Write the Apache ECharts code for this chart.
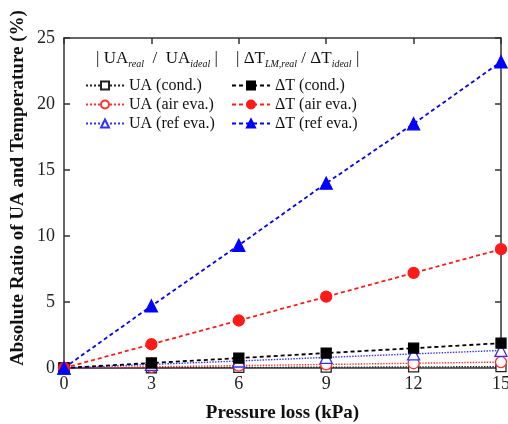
<!DOCTYPE html>
<html><head><meta charset="utf-8">
<script src="https://cdn.jsdelivr.net/npm/echarts@6/dist/echarts.min.js"></script>
<style>html,body{margin:0;padding:0;background:#fff}#c{width:508px;height:424px}</style>
</head><body><div id="c"></div>
<script>
const pressure = [0, 3, 6, 9, 12, 15];
const uaCond   = [0, 0.02, 0.04, 0.06, 0.08, 0.10];
const uaAir    = [0, 0.09, 0.18, 0.27, 0.36, 0.45];
const uaRef    = [0, 0.27, 0.53, 0.80, 1.07, 1.33];
const dtCond   = [0, 0.38, 0.75, 1.13, 1.50, 1.88];
const dtAir    = [0, 1.8, 3.6, 5.4, 7.2, 9.0];
const dtRef    = [0, 4.7, 9.3, 14.0, 18.5, 23.2];
const xTicks = [0, 3, 6, 9, 12, 15];
const yTicks = [0, 5, 10, 15, 20, 25];

const F = 'Liberation Serif';
const chart = echarts.init(document.getElementById('c'), null, {renderer:'canvas'});
const pairs = a => pressure.map((x,i)=>[x,a[i]]);
function s(name, data, color, dash, symbol, filled){
  return {name, type:'line', data:pairs(data), symbol, symbolSize: symbol==='triangle'?12:(symbol==='circle'?11:10),
    showSymbol:true,
    lineStyle:{color, width: filled?1.8:1.4, type: dash},
    itemStyle:{color: filled?color:'#fff', borderColor:color, borderWidth:1.3},
    z: filled?3:2, animation:false};
}
const axisCommon = {min:0, axisLine:{onZero:false, lineStyle:{color:'#333', width:1.5}},
  axisTick:{inside:true, length:6, lineStyle:{color:'#333', width:1.5}}, splitLine:{show:false}};
chart.setOption({
  backgroundColor:'#fff',
  animation:false,
  grid:{left:64, right:7, top:38, bottom:56, outerBoundsMode:'none', containLabel:false},
  xAxis:[
    Object.assign({}, axisCommon, {type:'value', max:15, interval:3, position:'bottom',
      name:'Pressure loss (kPa)', nameLocation:'middle', nameGap:36,
      nameTextStyle:{fontFamily:F, fontWeight:'bold', fontSize:19, color:'#111'},
      axisLabel:{fontFamily:F, fontSize:18, color:'#222', margin:7}}),
    Object.assign({}, axisCommon, {type:'value', max:15, interval:3, position:'top', axisLabel:{show:false}})
  ],
  yAxis:[
    Object.assign({}, axisCommon, {type:'value', max:25, interval:5, position:'left',
      axisLabel:{fontFamily:F, fontSize:18, color:'#222', margin:9}}),
    Object.assign({}, axisCommon, {type:'value', max:25, interval:5, position:'right', axisLabel:{show:false}})
  ],
  legend:[
    {data:['UA (cond.)','UA (air eva.)','UA (ref eva.)'], orient:'vertical', left:80, top:71,
     itemWidth:38, itemHeight:10, itemGap:0, textStyle:{fontFamily:F, fontSize:16, color:'#111', lineHeight:19}, selectedMode:false},
    {data:['ΔT (cond.)','ΔT (air eva.)','ΔT (ref eva.)'], orient:'vertical', left:226, top:71,
     itemWidth:38, itemHeight:10, itemGap:0, textStyle:{fontFamily:F, fontSize:16, color:'#111', lineHeight:19}, selectedMode:false}
  ],
  graphic:[
    {type:'text', x:18, y:188, rotation:Math.PI/2, style:{
      text:'Absolute Ratio of UA and Temperature (%)', font:'bold 19px '+F, fill:'#111',
      align:'center', verticalAlign:'middle'}},
    {type:'text', left:96, top:50, style:{
      text:'| UA{s|real}  /  UA{s|ideal} |', font:'17px '+F, fill:'#111',
      rich:{s:{fontFamily:F, fontSize:10, fontStyle:'italic', padding:[12,0,0,0], fill:'#111'}}}},
    {type:'text', left:236, top:50, style:{
      text:'| ΔT{s|LM,real} / ΔT{s|ideal} |', font:'17px '+F, fill:'#111',
      rich:{s:{fontFamily:F, fontSize:10, fontStyle:'italic', padding:[12,0,0,0], fill:'#111'}}}}
  ],
  series:[
    s('UA (cond.)', uaCond, '#222', 'dotted', 'rect', false),
    s('UA (air eva.)', uaAir, '#ff3030', 'dotted', 'circle', false),
    s('UA (ref eva.)', uaRef, '#3030ff', 'dotted', 'triangle', false),
    s('ΔT (cond.)', dtCond, '#000', [4,3], 'rect', true),
    s('ΔT (air eva.)', dtAir, '#ff1a1a', [4,3], 'circle', true),
    s('ΔT (ref eva.)', dtRef, '#0000ff', [4,3], 'triangle', true)
  ]
});
</script></body></html>
